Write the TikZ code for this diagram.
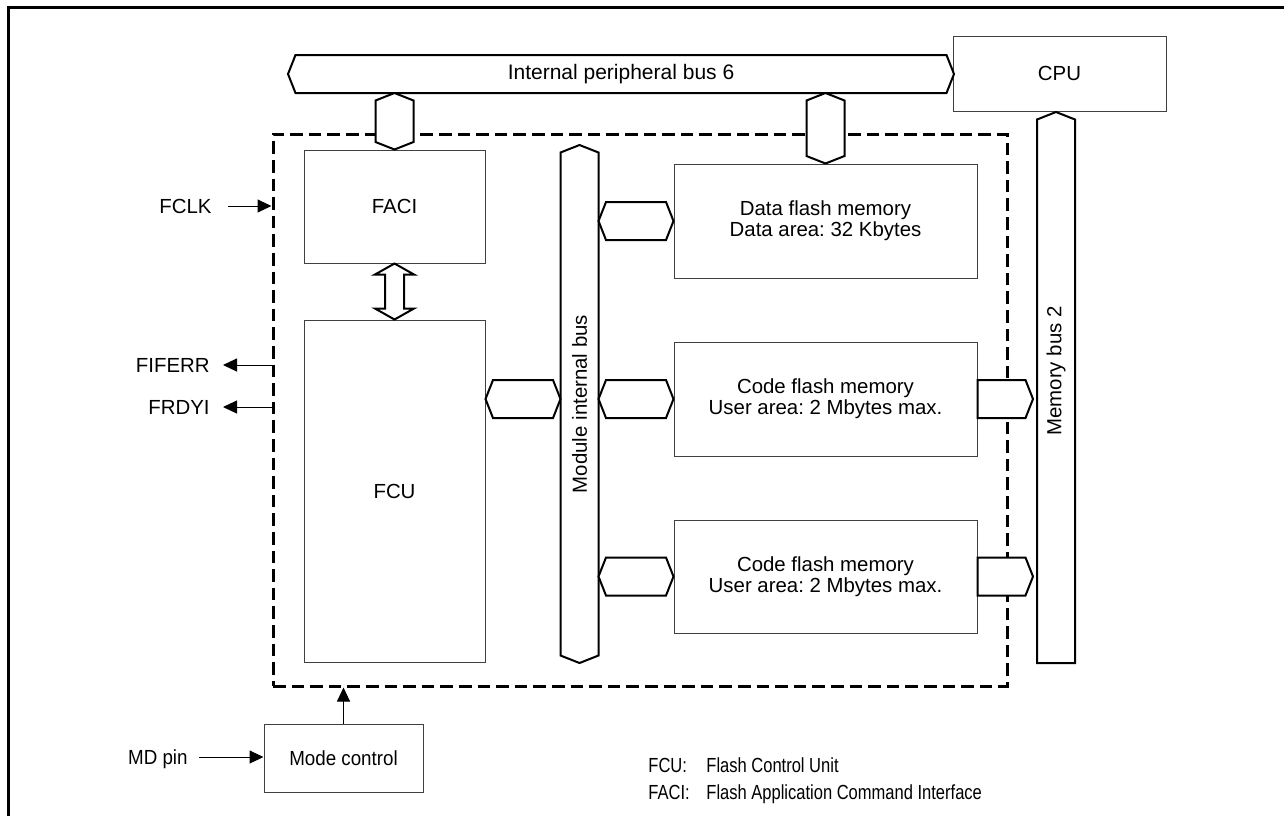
\documentclass[tikz,border=0pt]{standalone}
\usepackage{fontspec}
\setmainfont{Liberation Sans}
\newfontfamily\narrowfont[FakeStretch=0.92]{Liberation Sans}
\newfontfamily\keyfont[FakeStretch=0.81]{Liberation Sans}
\usetikzlibrary{calc,positioning,arrows.meta}
\frenchspacing

% bus outline parameters (in px of the drawing)
\def\tp{7.5}
\def\hh{19}
\def\hw{19}

\tikzset{
  box/.style={draw=black!75, line width=0.5pt, align=center, inner sep=0pt},
  modbox/.style={draw, line width=1.5pt, dash pattern=on 6.3pt off 3pt, inner sep=0pt},
  bus/.style={draw, line width=1pt, fill=white, line join=miter},
  lbl/.style={inner sep=0pt, text height=7.3pt, text depth=0pt},
  sig/.style={line width=0.5pt, -{Triangle[length=7pt,width=6.5pt]}},
  % pointed both ends, left to right
  hlink/.style={bus, to path={-- ($(\tikztostart)+(\tp,-\hh)$) -- ($(\tikztotarget)+(-\tp,-\hh)$)
      -- (\tikztotarget) -- ($(\tikztotarget)+(-\tp,\hh)$) -- ($(\tikztostart)+(\tp,\hh)$) -- cycle}},
  % flat start, pointed end, left to right
  rlink/.style={bus, to path={-- ++(0,-\hh) -- ($(\tikztotarget)+(-\tp,-\hh)$)
      -- (\tikztotarget) -- ($(\tikztotarget)+(-\tp,\hh)$) -- ($(\tikztostart)+(0,\hh)$) -- cycle}},
  % pointed both ends, top to bottom
  vlink/.style={bus, to path={-- ($(\tikztostart)+(\hw,\tp)$) -- ($(\tikztotarget)+(\hw,-\tp)$)
      -- (\tikztotarget) -- ($(\tikztotarget)+(-\hw,-\tp)$) -- ($(\tikztostart)+(-\hw,\tp)$) -- cycle}},
  % pointed top, flat bottom
  ulink/.style={bus, to path={-- ($(\tikztostart)+(\hw,\tp)$) -- ($(\tikztotarget)+(\hw,0)$)
      -- ($(\tikztotarget)+(-\hw,0)$) -- ($(\tikztostart)+(-\hw,\tp)$) -- cycle}},
}

\begin{document}
\begin{tikzpicture}[x=0.5pt, y=-0.5pt, font=\fontsize{10.2}{9.5}\selectfont]
\useasboundingbox (0,0) rectangle (1284,816);

% Frame
\draw[line width=1.6pt] (8.5,816) -- (8.5,7.5) -- (1284,7.5);

% Flash module boundary
\node[modbox, minimum width=367pt, minimum height=276pt] (modbox) at (640,410) {};

% Blocks
\node[box, minimum width=106.5pt, minimum height=37.5pt] (cpu) at (1059.5,73.5) {CPU};
\node[box, minimum width=90.5pt, minimum height=56.5pt] (faci) at (394.5,206.5) {FACI};
\node[box, minimum width=90.5pt, minimum height=171pt] (fcu) at (394.5,491) {FCU};
\node[box, minimum width=151.5pt, minimum height=57pt] (dflash) at (825.5,221)
  {Data flash memory\\Data area: 32 Kbytes};
\node[box, minimum width=151.5pt, minimum height=57pt] (cflash1) at (825.5,399)
  {Code flash memory\\User area: 2 Mbytes max.};
\node[box, minimum width=151.5pt, minimum height=56.5pt] (cflash2) at (825.5,576.5)
  {Code flash memory\\User area: 2 Mbytes max.};
\node[box, minimum width=79.5pt, minimum height=34pt, font=\fontsize{10.2}{9.5}\narrowfont] (mode) at (343.5,758) {Mode control};

% Internal peripheral bus 6
\coordinate (ipbL) at (288,74);
\coordinate (ipbR) at (954,74);
\draw[hlink] (ipbL) to (ipbR);
\node[font=\fontsize{10.5}{10}\selectfont] (ipb) at ($(ipbL)!0.5!(ipbR)$) {Internal peripheral bus 6};
\draw[vlink] ($(faci.north |- ipbL)+(0,\hh)$) to (faci.north);
\draw[vlink] ($(dflash.north |- ipbL)+(0,\hh)$) to (dflash.north);

% Module internal bus
\coordinate (mibT) at (579.5,145);
\coordinate (mibB) at (579.5,663);
\draw[vlink] (mibT) to (mibB);
\node[rotate=90] (mib) at ($(mibT)!0.5!(mibB)$) {Module internal bus};
\draw[hlink] (fcu.east |- cflash1) to ($(mibT |- cflash1)+(-19,0)$);
\draw[hlink] ($(mibT |- dflash)+(19,0)$) to (dflash.west);
\draw[hlink] ($(mibT |- cflash1)+(19,0)$) to (cflash1.west);
\draw[hlink] ($(mibT |- cflash2)+(19,0)$) to (cflash2.west);

% Memory bus 2
\coordinate (mbT) at (1056,112);
\coordinate (mbB) at (1056,663);
\draw[ulink] (mbT) to (mbB);
\node[rotate=90] (mb) at ($(mbT)!0.47!(mbB)$) {Memory bus 2};
\draw[rlink] (cflash1.east) to ($(mbT |- cflash1)+(-23,0)$);
\draw[rlink] (cflash2.east) to ($(mbT |- cflash2)+(-23,0)$);

% FACI <-> FCU
\draw[bus] (faci.south) -- ++(19.5,11) -- ++(-10,0) -- ($(fcu.north)+(9.5,-11)$) -- ++(10,0)
  -- (fcu.north) -- ++(-19.5,-11) -- ++(10,0) -- ($(faci.south)+(-9.5,11)$) -- ++(-10,0) -- cycle;

% Signals
\node[lbl, anchor=east] (fclk) at (212,206) {FCLK};
\node[lbl, anchor=east] (fiferr) at (210,365) {FIFERR};
\node[lbl, anchor=east] (frdyi) at (210,407) {FRDYI};
\node[lbl, anchor=east, font=\fontsize{10.2}{9.5}\narrowfont] (mdpin) at (188,757) {MD pin};
\draw[sig, shorten <=8pt] (fclk.east) -- (fclk -| modbox.west);
\draw[sig, shorten >=6.5pt] (fiferr -| modbox.west) -- (fiferr.east);
\draw[sig, shorten >=6.5pt] (frdyi -| modbox.west) -- (frdyi.east);
\draw[sig, shorten <=5.5pt] (mdpin.east) -- (mdpin -| mode.west);
\draw[sig] (mode.north) -- (mode.north |- modbox.south);

% Key
\node[lbl, anchor=west, font=\fontsize{10.2}{9.5}\keyfont] (fcukey) at (648,765.5) {FCU:};
\node[lbl, anchor=west, font=\fontsize{10.2}{9.5}\keyfont] (fcutxt) at (706,765.5) {Flash Control Unit};
\node[lbl, anchor=west, font=\fontsize{10.2}{9.5}\keyfont] (facikey) at (648,792) {FACI:};
\node[lbl, anchor=west, font=\fontsize{10.2}{9.5}\keyfont] (facitxt) at (706,792) {Flash Application Command Interface};
\end{tikzpicture}
\end{document}
